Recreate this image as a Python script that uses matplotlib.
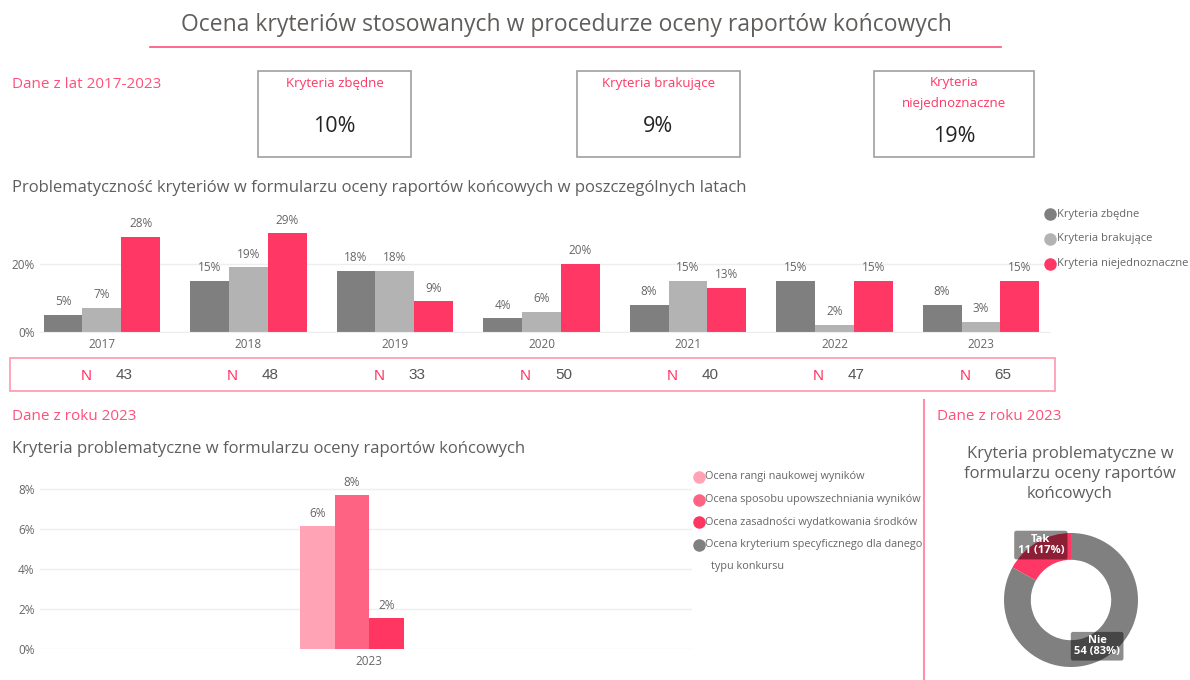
import matplotlib.pyplot as plt
from matplotlib.patches import Rectangle
from matplotlib.lines import Line2D
import numpy as np

plt.rcParams['font.family'] = ['Open Sans', 'DejaVu Sans']

# data
years = ['2017', '2018', '2019', '2020', '2021', '2022', '2023']
zbedne = [5, 15, 18, 4, 8, 15, 8]
brakujace = [7, 19, 18, 6, 15, 2, 3]
niejednoznaczne = [28, 29, 9, 20, 13, 15, 15]
n_counts = [43, 48, 33, 50, 40, 47, 65]
series_names = ['Kryteria zbędne', 'Kryteria brakujące', 'Kryteria niejednoznaczne']

card_titles = ['Kryteria zbędne', 'Kryteria brakujące', 'Kryteria\nniejednoznaczne']
card_values = ['10%', '9%', '19%']

crit_names = ['Ocena rangi naukowej wyników', 'Ocena sposobu upowszechniania wyników',
              'Ocena zasadności wydatkowania środków',
              'Ocena kryterium specyficznego dla danego\ntypu konkursu']
crit_values = [6.15, 7.69, 1.54, 0.0]

donut_labels = ['Tak', 'Nie']
donut_counts = [11, 54]

PINK = '#ff3764'
DARK = '#7f7f7f'
LIGHT = '#b3b3b3'
TXT = '#605e5c'
W, H = 1190, 680


def fx(x):
    return x / W


def fy(y):
    return 1 - y / H


fig = plt.figure(figsize=(11.9, 6.8), dpi=100)

# header
fig.text(fx(566), fy(25), 'Ocena kryteriów stosowanych w procedurze oceny raportów końcowych',
         ha='center', va='center', fontsize=16.5, color=TXT)
fig.add_artist(Line2D([fx(150), fx(1001)], [fy(47), fy(47)], color='#ff4f7b', lw=1.2))
fig.text(fx(12), fy(84), 'Dane z lat 2017-2023', ha='left', va='center', fontsize=11, color='#ff4f7b')

# cards
cards = [(258, 411), (577, 740), (874, 1034)]
for (x0, x1), t, v in zip(cards, card_titles, card_values):
    fig.add_artist(Rectangle((fx(x0), fy(157)), fx(x1 - x0), (157 - 71) / H,
                             fill=False, ec='#a0a0a0', lw=1.2))
    xc = (x0 + x1) / 2
    if '\n' in t:
        fig.text(fx(xc), fy(93), t, ha='center', va='center', fontsize=9.5, color=PINK, linespacing=1.8)
        fig.text(fx(xc), fy(137), v, ha='center', va='center', fontsize=15.5, color='#252423')
    else:
        fig.text(fx(xc), fy(83), t, ha='center', va='center', fontsize=9.5, color=PINK)
        fig.text(fx(xc), fy(126), v, ha='center', va='center', fontsize=15.5, color='#252423')

# yearly grouped bars
fig.text(fx(12), fy(188), 'Problematyczność kryteriów w formularzu oceny raportów końcowych w poszczególnych latach',
         ha='left', va='center', fontsize=12, color=TXT)
ax1 = fig.add_axes([fx(40), fy(332), fx(1010), (332 - 215) / H])
x = np.arange(len(years))
bw = 0.266
colors = [DARK, LIGHT, PINK]
for k, (vals, c, nm) in enumerate(zip([zbedne, brakujace, niejednoznaczne], colors, series_names)):
    bars = ax1.bar(x + (k - 1) * bw, vals, bw, color=c, label=nm, zorder=2)
    for b, v in zip(bars, vals):
        ax1.text(b.get_x() + b.get_width() / 2, v + 2, f'{v}%', ha='center', va='bottom',
                 fontsize=8.5, color='#666666')
ax1.set_xlim(-0.423, 6.471)
ax1.set_ylim(0, 34.4)
ax1.set_yticks([0, 20])
ax1.set_yticklabels(['0%', '20%'])
ax1.set_xticks(x)
ax1.set_xticklabels(years)
ax1.tick_params(length=0, labelsize=8.5, labelcolor='#666666', pad=4)
ax1.yaxis.grid(True, color='#eeeeee', lw=1, zorder=0)
for s in ax1.spines.values():
    s.set_visible(False)
ax1.spines['bottom'].set_visible(True)
ax1.spines['bottom'].set_color('#eeeeee')

# legend top
for k, (nm, c) in enumerate(zip(series_names, colors)):
    yy = 214 + k * 25
    fig.add_artist(Line2D([fx(1050)], [fy(yy)], marker='o', ms=8, color=c, lw=0))
    fig.text(fx(1057), fy(yy), nm, ha='left', va='center', fontsize=8, color='#666666')

# N box
fig.add_artist(Rectangle((fx(10), fy(391)), fx(1045), (391 - 358) / H,
                         fill=False, ec='#ff9fb5', lw=1.3))
for i, n in enumerate(n_counts):
    xc = 102 + 146.5 * i
    fig.text(fx(xc - 16), fy(376), 'N', ha='center', va='center', fontsize=11, color=PINK,
             family='Liberation Sans')
    fig.text(fx(xc + 22), fy(375), str(n), ha='center', va='center', fontsize=11, color='#555555',
             family='Liberation Sans')

# bottom left
fig.text(fx(12), fy(416), 'Dane z roku 2023', ha='left', va='center', fontsize=11, color='#ff4f7b')
fig.text(fx(12), fy(449), 'Kryteria problematyczne w formularzu oceny raportów końcowych',
         ha='left', va='center', fontsize=12, color=TXT)
ax2 = fig.add_axes([fx(40), fy(649), fx(692 - 40), (649 - 470) / H])
crit_colors = ['#ffa3b5', '#ff6384', '#ff3562', '#808080']
bw2 = 0.2
for k, (v, c) in enumerate(zip(crit_values, crit_colors)):
    pos = (k - 1.5) * bw2
    ax2.bar(pos, v, bw2, color=c, zorder=2)
    if v > 0:
        ax2.text(pos, v + 0.3, f'{v:.0f}%', ha='center', va='bottom', fontsize=8.5, color='#666666')
ax2.set_xlim(-1.907, 1.872)
ax2.set_ylim(0, 8.95)
ax2.set_yticks([0, 2, 4, 6, 8])
ax2.set_yticklabels(['0%', '2%', '4%', '6%', '8%'])
ax2.set_xticks([0])
ax2.set_xticklabels(['2023'])
ax2.tick_params(length=0, labelsize=8.5, labelcolor='#666666', pad=4)
ax2.yaxis.grid(True, color='#eeeeee', lw=1, zorder=0)
for s in ax2.spines.values():
    s.set_visible(False)

# legend bottom
for k, (nm, c) in enumerate(zip(crit_names, crit_colors)):
    yy = 477 + k * 22.5
    fig.add_artist(Line2D([fx(699)], [fy(yy)], marker='o', ms=8, color=c, lw=0))
    lines = nm.split('\n')
    fig.text(fx(705), fy(yy), lines[0], ha='left', va='center', fontsize=7.8, color='#666666')
    if len(lines) > 1:
        fig.text(fx(711), fy(yy + 22.5), lines[1], ha='left', va='center', fontsize=7.8, color='#666666')

# divider
fig.add_artist(Line2D([fx(924), fx(924)], [fy(400), fy(680)], color='#ff8fab', lw=1.5))

# donut
fig.text(fx(937), fy(416), 'Dane z roku 2023', ha='left', va='center', fontsize=11, color='#ff4f7b')
fig.text(fx(1070), fy(474), 'Kryteria problematyczne w\nformularzu oceny raportów\nkońcowych',
         ha='center', va='center', fontsize=12, color=TXT, linespacing=1.3)
ax3 = fig.add_axes([fx(1004), fy(667), fx(134), 134 / H])
ax3.pie(donut_counts, colors=[PINK, '#808080'], startangle=90, counterclock=True,
        radius=1, wedgeprops=dict(width=0.4, edgecolor='none'))
ax3.set_xlim(-1, 1)
ax3.set_ylim(-1, 1)
ax3.set_aspect('equal')
ax3.axis('off')
total = sum(donut_counts)
label_pos = [(-0.45, 0.82), (0.39, -0.69)]
for lab, cnt, (px, py) in zip(donut_labels, donut_counts, label_pos):
    ax3.text(px, py, f'{lab}\n{cnt} ({cnt / total * 100:.0f}%)', ha='center', va='center',
             fontsize=8, color='white', fontweight='bold', linespacing=1.0, clip_on=False,
             bbox=dict(boxstyle='round,pad=0.3,rounding_size=0.2', fc='black', alpha=0.45, ec='none'))

fig.savefig('out.png', dpi=100)
